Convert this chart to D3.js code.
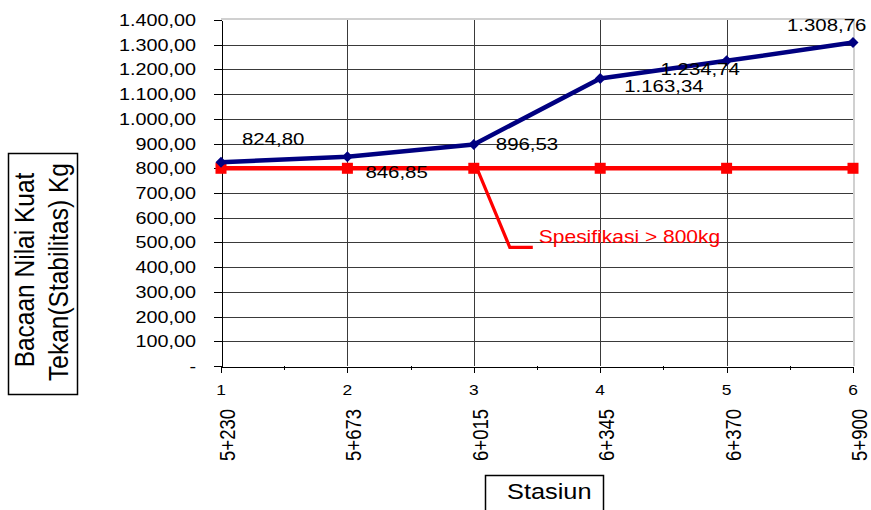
<!DOCTYPE html>
<html>
<head>
<meta charset="utf-8">
<script src="https://cdn.jsdelivr.net/npm/d3@7"></script>
<style>
  body { margin: 0; background: #fff; }
  svg { display: block; }
  text { font-family: "Liberation Sans", Arial, sans-serif; fill: #000; }
</style>
</head>
<body>
<svg id="chart" width="871" height="510"></svg>
<script>
// Station sequence and the names printed under each one
const stationIndex = [1, 2, 3, 4, 5, 6];
const stationNames = ["5+230", "5+673", "6+015", "6+345", "6+370", "5+900"];
// Measured Marshall stability readings (kg)
const stabilityKg = [824.80, 846.85, 896.53, 1163.34, 1234.74, 1308.76];
// Minimum specification (kg)
const specKg = [800, 800, 800, 800, 800, 800];
// Value axis ticks
const yTickValues = [0, 100, 200, 300, 400, 500, 600, 700, 800, 900, 1000, 1100, 1200, 1300, 1400];
const specLabel = "Spesifikasi > 800kg";
const yTitleLines = ["Bacaan Nilai Kuat", "Tekan(Stabilitas) Kg"];
const xTitle = "Stasiun";

// Label placement relative to each reading's point (dx, dy)
const labelOffsets = [[21, -17], [18, 21], [22, 6], [24, 13.5], [-66, 14], [-66, -12]];

const svg = d3.select("#chart");
const SX = 1.2; // horizontal text stretch

const x = d3.scaleLinear().domain([1, 6]).range([221, 853]);
const y = d3.scaleLinear().domain([0, 1400]).range([366, 20]);

const idLocale = d3.formatLocale({ decimal: ",", thousands: ".", grouping: [3], currency: ["", ""] });
const fmt = idLocale.format(",.2f");
const yFmt = v => v === 0 ? "-" : fmt(v);

function stretchedText(g, tx, ty, str, size, anchor, sx, rotate) {
  return g.append("text")
    .attr("transform", `translate(${tx},${ty}) scale(${sx},1)` + (rotate ? ` rotate(${rotate})` : ""))
    .attr("font-size", size)
    .attr("text-anchor", anchor)
    .text(str);
}

// Gridlines
const grid = svg.append("g").attr("shape-rendering", "crispEdges");
grid.selectAll("line.h").data(yTickValues.filter(v => v > 0 && v < 1400)).join("line")
  .attr("x1", x(1)).attr("x2", x(6))
  .attr("y1", d => Math.round(y(d)) + 0.5).attr("y2", d => Math.round(y(d)) + 0.5)
  .attr("stroke", "#3a3a3a").attr("stroke-width", 1);
grid.selectAll("line.v").data(stationIndex.filter(v => v > 1 && v < 6)).join("line")
  .attr("y1", y(0)).attr("y2", y(1400))
  .attr("x1", d => Math.round(x(d)) + 0.5).attr("x2", d => Math.round(x(d)) + 0.5)
  .attr("stroke", "#3a3a3a").attr("stroke-width", 1);

// Plot area border (top and right)
svg.append("path")
  .attr("d", `M${x(1)},${y(1400) - 1}H${x(6) + 1}V${y(0)}`)
  .attr("fill", "none").attr("stroke", "#d0d0d0").attr("stroke-width", 2);

// Y axis
const yAxis = svg.append("g")
  .attr("transform", `translate(${Math.round(x(1)) + 0.5},0)`)
  .call(d3.axisLeft(y).tickValues(yTickValues).tickSize(8).tickSizeOuter(0).tickFormat(""));
yAxis.select(".domain").attr("stroke", "#000");
yAxis.selectAll(".tick line").attr("stroke", "#000");
yAxis.attr("shape-rendering", "crispEdges");

const yLabels = svg.append("g");
yTickValues.forEach(v => {
  stretchedText(yLabels, 196, y(v) + 6, yFmt(v), 16.5, "end", SX);
});

// X axis
const xAxis = svg.append("g")
  .attr("transform", `translate(0,${Math.round(y(0)) + 0.5})`)
  .call(d3.axisBottom(x).tickValues(stationIndex).tickSize(6).tickSizeOuter(0).tickFormat(""));
xAxis.select(".domain").attr("stroke", "#000");
xAxis.selectAll(".tick line").attr("stroke", "#000");
xAxis.attr("shape-rendering", "crispEdges");
// Minor ticks between stations
const minor = svg.append("g").attr("shape-rendering", "crispEdges");
stationIndex.slice(0, -1).forEach(v => {
  const mx = Math.round(x(v + 0.5)) + 0.5;
  minor.append("line").attr("x1", mx).attr("x2", mx)
    .attr("y1", y(0)).attr("y2", y(0) + 4).attr("stroke", "#000");
});

const xLabels = svg.append("g");
stationIndex.forEach((v, i) => {
  stretchedText(xLabels, x(v), 395, String(v), 14.5, "middle", SX);
  stretchedText(xLabels, x(v) + 14, 409, stationNames[i], 18.5, "end", SX, -90);
});

// Spec line (red)
const seriesLine = d3.line().x((d, i) => x(stationIndex[i])).y(d => y(d));
svg.append("path").datum(specKg)
  .attr("d", seriesLine)
  .attr("fill", "none").attr("stroke", "#ff0000").attr("stroke-width", 4.5);
svg.append("g").selectAll("rect").data(specKg).join("rect")
  .attr("x", (d, i) => x(stationIndex[i]) - 5.5)
  .attr("y", d => y(d) - 5.5)
  .attr("width", 11).attr("height", 11)
  .attr("fill", "#ff0000");

// Stability line (navy)
svg.append("path").datum(stabilityKg)
  .attr("d", seriesLine)
  .attr("fill", "none").attr("stroke", "#000080").attr("stroke-width", 4.5)
  .attr("stroke-linejoin", "round");
svg.append("g").selectAll("path").data(stabilityKg).join("path")
  .attr("transform", (d, i) => `translate(${x(stationIndex[i])},${y(d)})`)
  .attr("d", "M0,-5.5L5.5,0L0,5.5L-5.5,0Z")
  .attr("fill", "#000080");

// Data labels
const dataLabels = svg.append("g");
stabilityKg.forEach((v, i) => {
  const [dx, dy] = labelOffsets[i];
  stretchedText(dataLabels, x(stationIndex[i]) + dx, y(v) + dy, fmt(v), 17, "start", SX);
});

// Specification callout
const ax = x(stationIndex[2]), ay = y(specKg[2]);
svg.append("path")
  .attr("d", `M${ax + 4},${ay + 2}L${ax + 36},${ay + 79}H${ax + 59}`)
  .attr("fill", "none").attr("stroke", "#ff0000").attr("stroke-width", 3.2);
stretchedText(svg, ax + 65, ay + 75, specLabel, 17.5, "start", SX).style("fill", "#ff0000");

// Y axis title box
svg.append("rect").attr("x", 8.5).attr("y", 153.5).attr("width", 69).attr("height", 241)
  .attr("fill", "#fff").attr("stroke", "#000").attr("stroke-width", 1.5);
stretchedText(svg, 33.5, 270, yTitleLines[0], 24.5, "middle", 1.12, -90);
stretchedText(svg, 68, 272, yTitleLines[1], 24.5, "middle", 1.12, -90);

// X axis title box
svg.append("rect").attr("x", 485.5).attr("y", 475.5).attr("width", 118).attr("height", 40)
  .attr("fill", "#fff").attr("stroke", "#000").attr("stroke-width", 1.5);
stretchedText(svg, 507, 499, xTitle, 21.5, "start", 1.18);
</script>
</body>
</html>
